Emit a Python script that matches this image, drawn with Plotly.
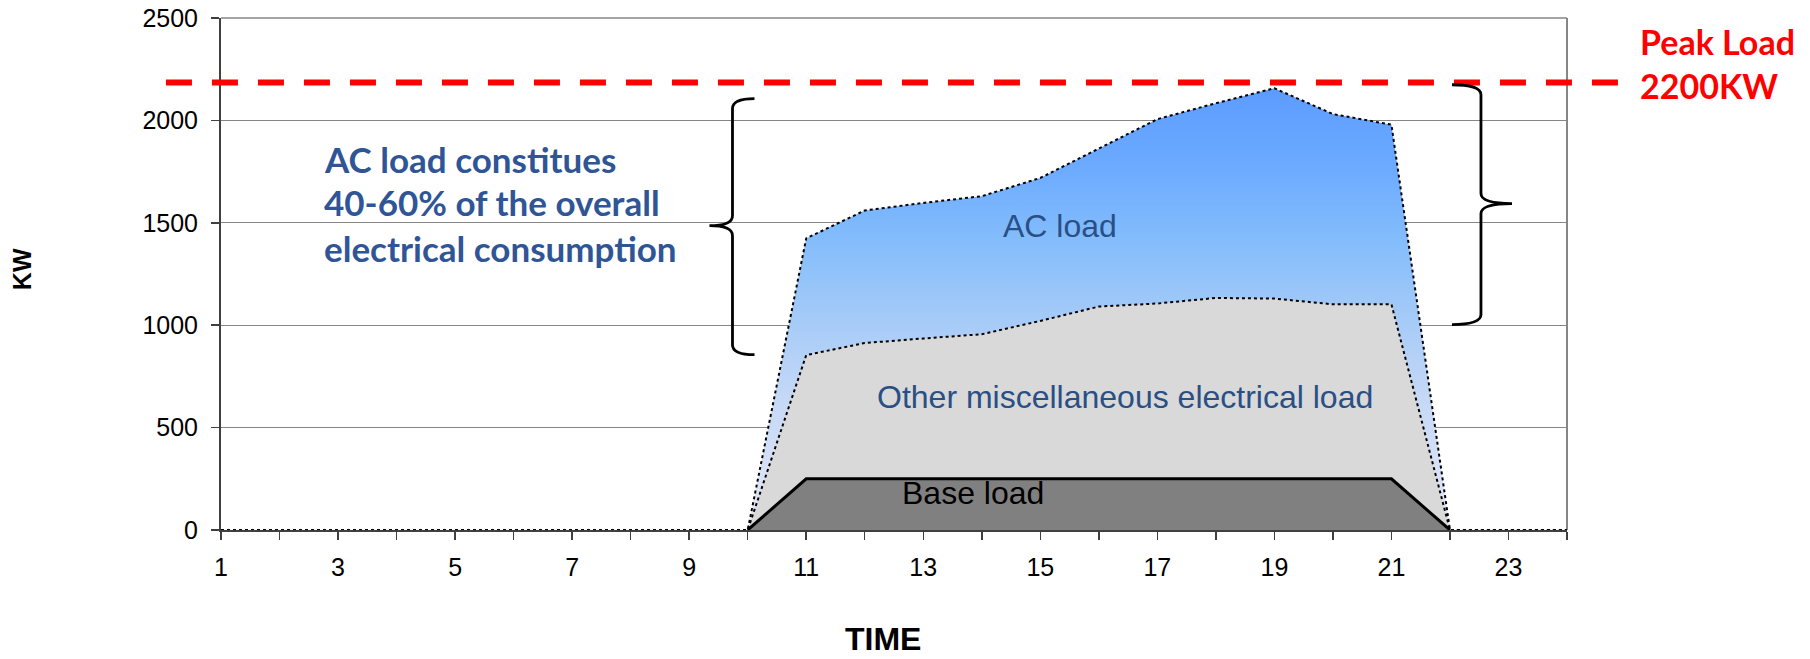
import numpy as np
import plotly.graph_objects as go

# ---------------- data ----------------
hours = list(range(1, 25))
x_tick_labels = [str(h) for h in range(1, 24, 2)]
y_ticks = [0, 500, 1000, 1500, 2000, 2500]

# component loads in kW, hours 1..24
base_load = [0, 0, 0, 0, 0, 0, 0, 0, 0, 0,
             250, 250, 250, 250, 250, 250, 250, 250, 250, 250, 250,
             0, 0, 0]
other_load = [0, 0, 0, 0, 0, 0, 0, 0, 0, 0,
              604, 663, 685, 706, 771, 841, 856, 883, 880, 852, 852,
              0, 0, 0]
ac_load = [0, 0, 0, 0, 0, 0, 0, 0, 0, 0,
           570, 647, 662, 674, 698, 770, 900, 951, 1027, 929, 877,
           0, 0, 0]

peak_line_kw = 2185
peak_label = ["Peak Load", "2200KW"]
note_lines = ["AC load constitues", "40-60% of the overall", "electrical consumption"]

# braces: (x position in hours, top kW, bottom kW, tip kW, side)
left_brace = (9.74, 2106, 856, 1486, "left")
right_brace = (22.53, 2174, 1003, 1594, "right")

# ---------------- derived stacks ----------------
base_arr = np.array(base_load, dtype=float)
misc_top = base_arr + np.array(other_load, dtype=float)
ac_top = misc_top + np.array(ac_load, dtype=float)

ARIAL = "Arial, Liberation Sans, sans-serif"
CAL = "Lato, Carlito, Calibri, sans-serif"

fig = go.Figure()

fig.add_trace(go.Scatter(
    x=hours, y=ac_top, mode="lines", fill="tozeroy",
    line=dict(color="black", width=2, dash="dot"),
    fillgradient=dict(type="vertical", start=0, stop=2200,
                      colorscale=[[0, "#E6E8F8"], [0.3, "#C4D8F6"], [0.5, "#9FC8F8"],
                                  [0.65, "#82BCFC"], [0.8, "#6DABFF"], [1, "#5A9AFF"]]),
    showlegend=False, hoverinfo="skip"))

fig.add_trace(go.Scatter(
    x=hours, y=misc_top, mode="lines", fill="tozeroy",
    line=dict(color="black", width=2, dash="dot"),
    fillcolor="#D9D9D9", showlegend=False, hoverinfo="skip"))

# base load only over its active window (hour 10..22)
idx = [i for i in range(len(hours))
       if base_load[i] > 0 or (i > 0 and base_load[i - 1] > 0) or (i + 1 < len(hours) and base_load[i + 1] > 0)]
fig.add_trace(go.Scatter(
    x=[hours[i] for i in idx], y=[base_load[i] for i in idx], mode="lines", fill="tozeroy",
    line=dict(color="black", width=3), fillcolor="#808080",
    showlegend=False, hoverinfo="skip"))

# ---------------- geometry ----------------
W, H = 1810, 659
L, T = 221, 18
pw, ph = 1346, 512
R = W - L - pw
B = H - T - ph
kx = (24 - 1) / pw      # hours per pixel
ky = 2500 / ph          # kW per pixel


def brace_path(spec):
    xs, ytop, ybot, ytip, side = spec
    a = 1 if side == "left" else -1          # arms direction (in pixels, +x)
    arm = 22 if side == "left" else 29
    tipl = 23 if side == "left" else 31
    r = 10

    def P(dx, yv):
        return f"{xs + dx * kx:.5f},{yv:.3f}"
    ry = r * ky
    parts = [
        "M" + P(a * arm, ytop),
        "Q" + P(0, ytop) + " " + P(0, ytop - ry),
        "L" + P(0, ytip + ry),
        "Q" + P(0, ytip) + " " + P(-a * tipl, ytip),
        "Q" + P(0, ytip) + " " + P(0, ytip - ry),
        "L" + P(0, ybot + ry),
        "Q" + P(0, ybot) + " " + P(a * arm, ybot),
    ]
    return " ".join(parts)


shapes = [
    dict(type="line", xref="paper", yref="paper", x0=1, x1=1, y0=0, y1=1, layer="below",
         line=dict(color="#868686", width=2)),
    dict(type="line", xref="paper", yref="paper", x0=0, x1=1, y0=1, y1=1, layer="below",
         line=dict(color="#868686", width=1.5)),
    dict(type="line", xref="paper", yref="y", x0=-0.0409, x1=1.038,
         y0=peak_line_kw, y1=peak_line_kw,
         line=dict(color="#FF0000", width=6, dash="26px,20px")),
    dict(type="path", xref="x", yref="y", path=brace_path(left_brace),
         line=dict(color="black", width=2.8)),
    dict(type="path", xref="x", yref="y", path=brace_path(right_brace),
         line=dict(color="black", width=2.8)),
]

annotations = []
# in-chart labels
annotations.append(dict(x=15.34, y=1482, xref="x", yref="y", text="AC load", showarrow=False,
                        font=dict(family=ARIAL, size=32, color="#2A4F85"),
                        xanchor="center", yanchor="middle"))
annotations.append(dict(x=16.45, y=648, xref="x", yref="y", text="Other miscellaneous electrical load",
                        showarrow=False, font=dict(family=ARIAL, size=32, color="#2A4F85"),
                        xanchor="center", yanchor="middle"))
annotations.append(dict(x=13.85, y=180, xref="x", yref="y", text="Base load", showarrow=False,
                        font=dict(family=ARIAL, size=32, color="black"),
                        xanchor="center", yanchor="middle"))
note_y = [1812, 1602, 1378]
for txt, yv in zip(note_lines, note_y):
    annotations.append(dict(x=2.72, y=yv, xref="x", yref="y", text=f"<b>{txt}</b>", showarrow=False,
                            font=dict(family=CAL, size=35, color="#2F5597"),
                            xanchor="left", yanchor="middle"))
for txt, yp in zip(peak_label, [0.955, 0.868]):
    annotations.append(dict(x=1.0527, y=yp, xref="paper", yref="paper", text=f"<b>{txt}</b>",
                            showarrow=False, font=dict(family=CAL, size=34, color="#FF0000"),
                            xanchor="left", yanchor="middle"))
annotations.append(dict(x=0.4918, y=-0.2138, xref="paper", yref="paper", text="<b>TIME</b>",
                        showarrow=False, font=dict(family=ARIAL, size=32, color="black"),
                        xanchor="center", yanchor="middle"))
annotations.append(dict(x=-0.1478, y=0.5096, xref="paper", yref="paper", text="<b>KW</b>",
                        showarrow=False, textangle=-90, font=dict(family=ARIAL, size=25, color="black"),
                        xanchor="center", yanchor="middle"))

fig.update_layout(
    width=W, height=H,
    margin=dict(l=L, r=R, t=T, b=B, pad=0, autoexpand=False),
    paper_bgcolor="white", plot_bgcolor="white",
    shapes=shapes, annotations=annotations,
    xaxis=dict(range=[1, 24], tickmode="array", tickvals=list(range(1, 24, 2)), ticktext=x_tick_labels,
               ticks="outside", ticklen=8, tickwidth=1.5, tickcolor="#404040",
               minor=dict(tickmode="linear", tick0=1, dtick=1, ticks="outside", ticklen=8,
                          tickwidth=1.5, tickcolor="#404040", showgrid=False),
               showline=True, linecolor="#404040", linewidth=2, showgrid=False, zeroline=False,
               ticklabeloverflow="allow",
               tickfont=dict(family=ARIAL, size=25, color="black"), ticklabelstandoff=6),
    yaxis=dict(range=[0, 2500], tickmode="array", tickvals=y_ticks,
               ticks="outside", ticklen=8, tickwidth=1.5, tickcolor="#404040",
               showline=True, linecolor="#404040", linewidth=2,
               showgrid=True, gridcolor="#868686", gridwidth=1.3, zeroline=False,
               ticklabeloverflow="allow",
               tickfont=dict(family=ARIAL, size=25, color="black"), ticklabelstandoff=8),
)

# remove the default 8px page margin so the figure fills the window exactly
fig.write_html("out.html",
               config={"displayModeBar": False, "staticPlot": True},
               post_script="document.body.style.margin='0';document.body.style.overflow='hidden';")
